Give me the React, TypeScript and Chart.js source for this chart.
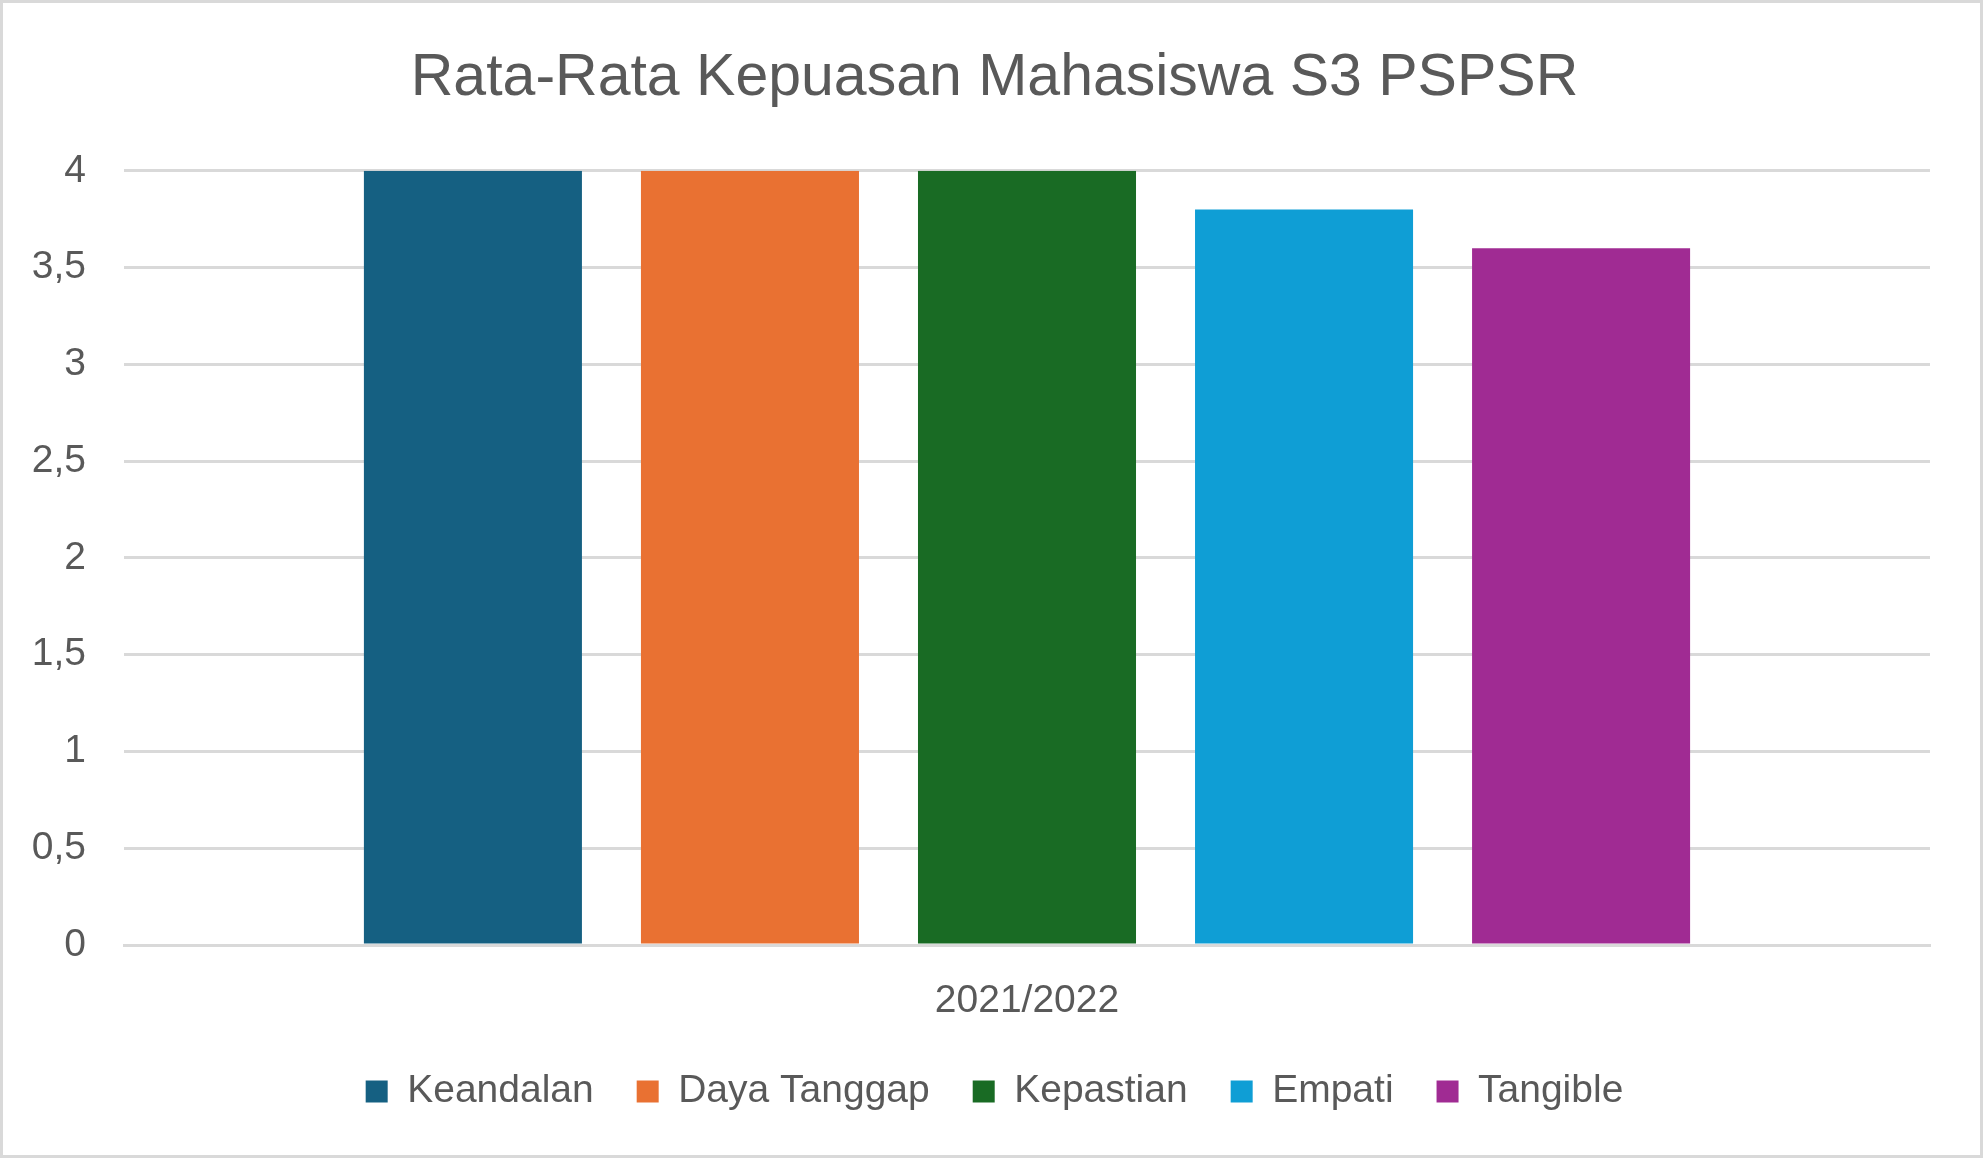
import React, { useEffect, useRef } from "react";
import { Chart, registerables } from "chart.js";

Chart.register(...registerables);

const categories = ["2021/2022"];
const seriesNames = ["Keandalan", "Daya Tanggap", "Kepastian", "Empati", "Tangible"];
const seriesValues = [[4], [4], [4], [3.8], [3.6]];
const seriesColors = ["#156082", "#E97132", "#196B24", "#0F9ED5", "#A02B93"];
const titleText = "Rata-Rata Kepuasan Mahasiswa S3 PSPSR";

const W = 1983;
const H = 1158;
const FONT = "'Liberation Sans', Arial, sans-serif";
const TEXT = "#595959";
const GRID = "#d9d9d9";

const framePlugin = {
  id: "frame",
  beforeDraw(chart: any) {
    const ctx = chart.ctx;
    ctx.save();
    ctx.fillStyle = "#ffffff";
    ctx.fillRect(0, 0, chart.width, chart.height);
    ctx.restore();
  },
  afterDraw(chart: any) {
    const ctx = chart.ctx;
    ctx.save();
    ctx.strokeStyle = GRID;
    ctx.lineWidth = 3;
    ctx.strokeRect(1.5, 1.5, chart.width - 3, chart.height - 3);
    ctx.restore();
  },
};

export default function App() {
  const ref = useRef<HTMLCanvasElement | null>(null);
  useEffect(() => {
    document.body.style.margin = "0";
    if (!ref.current) return;
    const chart = new Chart(ref.current, {
      type: "bar",
      data: {
        labels: categories,
        datasets: seriesNames.map((name, i) => ({
          label: name,
          data: seriesValues[i],
          backgroundColor: seriesColors[i],
          borderWidth: 0,
          categoryPercentage: 0.767,
          barPercentage: 0.787,
        })),
      },
      options: {
        responsive: false,
        animation: false,
        devicePixelRatio: 1,
        layout: { padding: { left: 6, right: 0, top: 0, bottom: 37 } },
        plugins: {
          title: {
            display: true,
            text: titleText,
            color: TEXT,
            font: { family: FONT, size: 59, weight: "normal" },
            padding: { top: 43, bottom: 57 },
          },
          legend: {
            position: "bottom",
            labels: {
              color: TEXT,
              font: { family: FONT, size: 39 },
              boxWidth: 22,
              boxHeight: 22,
              padding: 43,
            },
          },
          tooltip: { enabled: false },
        },
        scales: {
          x: {
            grid: { display: false, drawTicks: false },
            border: { display: true, color: GRID, width: 3 },
            ticks: {
              color: TEXT,
              font: { family: FONT, size: 39 },
              padding: 33,
            },
            afterFit(scale: any) {
              scale.height = 84;
            },
          },
          y: {
            min: 0,
            max: 4,
            grid: { color: GRID, lineWidth: 3, drawTicks: false },
            border: { display: false },
            ticks: {
              stepSize: 0.5,
              color: TEXT,
              font: { family: FONT, size: 39 },
              padding: 38,
              callback: (v: any) => String(v).replace(".", ","),
            },
            afterFit(scale: any) {
              scale.width = 118;
            },
          },
          yRight: {
            position: "right",
            min: 0,
            max: 4,
            grid: { display: false, drawTicks: false },
            border: { display: false },
            ticks: { display: false },
            afterFit(scale: any) {
              scale.width = 53;
            },
          },
        },
      },
      plugins: [framePlugin],
    } as any);
    return () => chart.destroy();
  }, []);
  return (
    <div style={{ width: W, height: H }}>
      <canvas ref={ref} width={W} height={H} style={{ display: "block" }} />
    </div>
  );
}
